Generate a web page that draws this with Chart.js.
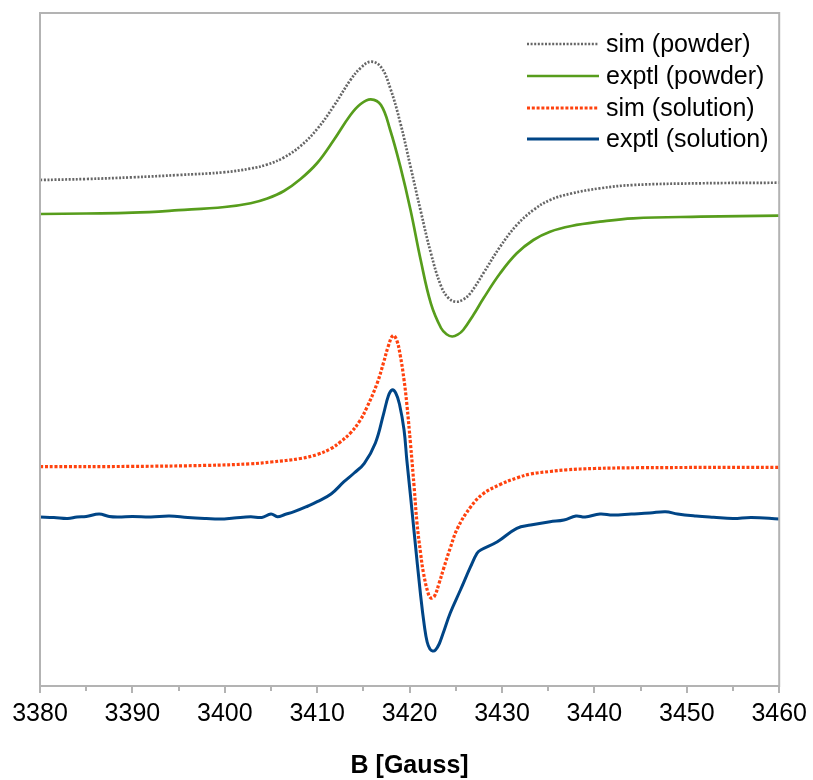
<!DOCTYPE html>
<html>
<head>
<meta charset="utf-8">
<script src="https://cdn.jsdelivr.net/npm/chart.js@4/dist/chart.umd.min.js"></script>
<style>
  body { margin: 0; background: #ffffff; }
  #wrap { width: 813px; height: 780px; }
</style>
</head>
<body>
<div id="wrap"><canvas id="grafico" width="813" height="780"></canvas></div>
<script>
// Espectros EPR: campo B [Gauss] e intensidad (u.a., curvas desplazadas)
const ejeTicks = [3380, 3390, 3400, 3410, 3420, 3430, 3440, 3450, 3460];

const simPolvoB = [3380, 3385, 3390, 3395, 3400, 3402.8, 3404.6, 3406.4, 3408.2, 3410, 3411.8, 3413.6, 3414.7, 3415.8, 3416.9, 3417.9, 3419, 3420.1, 3421.2, 3422.3, 3423.4, 3424.2, 3425, 3425.8, 3426.6, 3428, 3429.8, 3431.6, 3433.4, 3435.2, 3437.5, 3440.6, 3444.2, 3451.5, 3460];
const simPolvoI = [506, 507, 508.7, 511, 513.8, 517.5, 521.5, 528.5, 540, 557, 580, 606, 618, 624.3, 619, 598, 563, 519.3, 475, 433, 400, 388, 384.3, 386.5, 393, 413, 439.3, 461, 476, 486, 492.5, 497.7, 501, 502.7, 503.3];

const expPolvoB = [3380, 3385, 3390, 3395, 3400, 3402.8, 3404.6, 3406.4, 3408.2, 3410, 3411.8, 3413.6, 3414.7, 3415.8, 3416.9, 3417.9, 3419, 3420.1, 3421.2, 3422.3, 3423.4, 3424, 3424.6, 3425.2, 3425.8, 3426.9, 3428, 3429.8, 3431.6, 3433.4, 3435.2, 3437.5, 3440.6, 3444.2, 3451.5, 3460];
const expPolvoI = [472, 472.5, 473.3, 475.8, 479, 482.8, 487.5, 495, 507, 523, 546, 571, 582, 586.7, 581, 556, 519.3, 476, 426, 382.7, 358, 351.8, 349.5, 351.3, 356, 371, 387.7, 412.7, 432.7, 446, 454.3, 460, 464.3, 467.7, 469.3, 470.3];

const simSolB = [3380, 3390, 3398, 3402.8, 3405, 3408.2, 3410, 3411.5, 3412.5, 3413.6, 3414.6, 3415.4, 3416.5, 3417.2, 3417.7, 3418.2, 3418.6, 3419, 3419.4, 3419.7, 3420.1, 3420.5, 3420.8, 3421.2, 3421.5, 3422, 3422.3, 3422.7, 3423.2, 3423.7, 3424.4, 3425.2, 3426.6, 3428, 3429.8, 3431.6, 3433.1, 3435.2, 3437, 3440, 3445, 3460];
const simSolI = [219.3, 219.6, 220.6, 222.2, 224, 227.5, 231.5, 237.5, 244, 253, 265, 279, 303, 324, 340, 350.5, 346, 330, 306, 282, 242, 198, 163, 132, 113, 93, 88, 90, 103, 118, 138, 158, 179, 192.5, 201.5, 208, 212, 214.5, 216.2, 217.5, 218.3, 218.7];

const expSolB = [3380, 3381.5, 3383, 3384, 3385, 3386.4, 3387.5, 3388.5, 3390, 3392, 3394, 3396, 3398, 3399.5, 3401, 3402.8, 3404, 3405, 3405.7, 3406.5, 3407.5, 3409, 3410, 3411.5, 3412.9, 3414, 3415.1, 3416.3, 3417.2, 3417.7, 3418.1, 3418.5, 3418.9, 3419.4, 3419.7, 3420.1, 3420.5, 3421.2, 3421.6, 3421.9, 3422.2, 3422.5, 3422.8, 3423.2, 3423.6, 3424.4, 3425.5, 3426.6, 3427.3, 3427.7, 3429.5, 3431.6, 3433.1, 3435.2, 3436.7, 3438, 3439, 3440.6, 3442, 3444, 3446, 3447.7, 3449, 3451, 3452.9, 3455, 3457, 3460];
const expSolI = [169, 168.5, 167.5, 169, 169.5, 172, 169.5, 169, 169.5, 169, 170, 168.5, 167.5, 167, 168, 169.3, 168.5, 172, 169.3, 171.5, 174.3, 180, 184.3, 192, 204.3, 213, 222.7, 243, 272.7, 290, 296, 293, 282, 256, 226, 190, 153, 90, 60, 44, 37, 35, 36, 42, 52, 73, 96, 119.3, 132.7, 136, 144.3, 157.7, 161, 164.3, 166, 170, 169, 172, 171, 172, 173, 174.3, 172, 170, 168.7, 167.5, 168.5, 167];

const etiquetas = ['sim (powder)', 'exptl (powder)', 'sim (solution)', 'exptl (solution)'];

function puntos(bs, is) {
    return bs.map((b, k) => ({ x: b, y: is[k] }));
}

const GRIS_EJE = '#b3b3b3';
const FUENTE = '"Liberation Sans", Arial, sans-serif';

// Marco, marcas menores del eje y leyenda dibujada dentro del área
const marcoYLeyenda = {
    id: 'marcoYLeyenda',
    afterDraw(chart) {
        const ctx = chart.ctx;
        const area = chart.chartArea;
        const x = chart.scales.x;
        ctx.save();
        ctx.strokeStyle = GRIS_EJE;
        ctx.lineWidth = 2;
        ctx.strokeRect(area.left, area.top, area.right - area.left, area.bottom - area.top);
        // marcas menores cada 5 G
        ctx.beginPath();
        for (let v = 3385; v < 3460; v += 10) {
            const px = Math.round(x.getPixelForValue(v));
            ctx.moveTo(px, area.bottom);
            ctx.lineTo(px, area.bottom + 5);
        }
        ctx.stroke();

        // leyenda
        const x0 = 527, x1 = 599, xt = 606;
        const filas = [44, 76, 108, 139];
        chart.data.datasets.forEach((ds, k) => {
            const y = filas[k];
            ctx.strokeStyle = ds.borderColor;
            ctx.lineWidth = ds.borderWidth;
            ctx.setLineDash(ds.borderDash || []);
            ctx.beginPath();
            ctx.moveTo(x0, y);
            ctx.lineTo(x1, y);
            ctx.stroke();
            ctx.setLineDash([]);
            ctx.fillStyle = '#000000';
            ctx.font = '25px ' + FUENTE;
            ctx.textBaseline = 'middle';
            ctx.textAlign = 'left';
            ctx.fillText(ds.label, xt, y + 1);
        });
        ctx.restore();
    }
};

const ctx = document.getElementById('grafico').getContext('2d');
new Chart(ctx, {
    type: 'line',
    data: {
        datasets: [{
            label: etiquetas[0],
            data: puntos(simPolvoB, simPolvoI),
            borderColor: '#666666',
            borderWidth: 2.7,
            borderDash: [2, 1.6]
        }, {
            label: etiquetas[1],
            data: puntos(expPolvoB, expPolvoI),
            borderColor: '#579d1c',
            borderWidth: 2.7
        }, {
            label: etiquetas[2],
            data: puntos(simSolB, simSolI),
            borderColor: '#ff420e',
            borderWidth: 3.2,
            borderDash: [3, 1.8]
        }, {
            label: etiquetas[3],
            data: puntos(expSolB, expSolI),
            borderColor: '#004586',
            borderWidth: 3
        }]
    },
    options: {
        responsive: false,
        animation: false,
        devicePixelRatio: 1,
        layout: {
            padding: { left: 40, right: 33, top: 13, bottom: 0 }
        },
        elements: {
            point: { radius: 0 },
            line: { borderCapStyle: 'butt', fill: false, tension: 0.4 }
        },
        scales: {
            x: {
                type: 'linear',
                min: 3380,
                max: 3460,
                afterFit: (escala) => { escala.height = 94; },
                border: { display: false },
                grid: {
                    drawOnChartArea: false,
                    drawTicks: true,
                    tickLength: 7,
                    lineWidth: 2,
                    tickColor: (c) => (c.tick && c.tick.value % 10 === 0) ? GRIS_EJE : 'rgba(0,0,0,0)'
                },
                ticks: {
                    stepSize: 5,
                    padding: 6,
                    maxRotation: 0,
                    autoSkip: false,
                    color: '#000000',
                    font: { family: FUENTE, size: 25 },
                    callback: (v) => ejeTicks.includes(v) ? String(v) : ''
                },
                title: {
                    display: true,
                    text: 'B [Gauss]',
                    color: '#000000',
                    font: { family: FUENTE, size: 25, weight: 'bold', lineHeight: 1 },
                    padding: { top: 0, bottom: 1 }
                }
            },
            y: {
                display: false,
                min: 0,
                max: 673
            }
        },
        plugins: {
            legend: { display: false },
            tooltip: { enabled: false }
        }
    },
    plugins: [marcoYLeyenda]
});
</script>
</body>
</html>
